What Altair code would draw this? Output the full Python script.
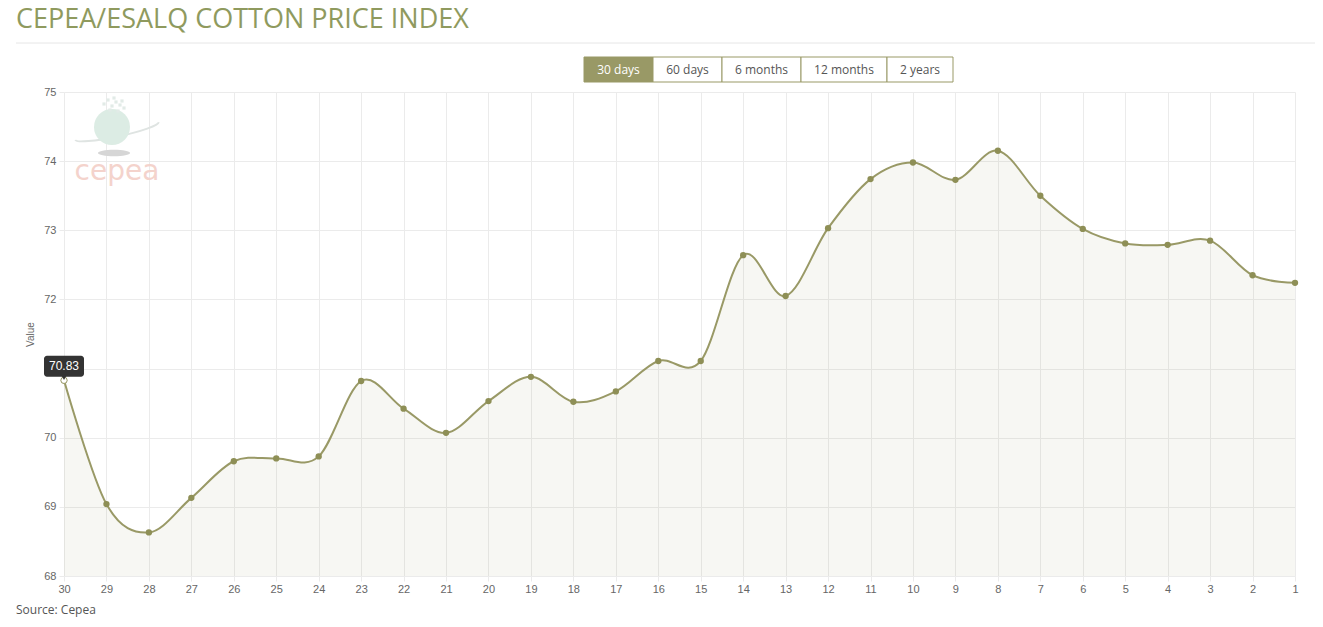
import altair as alt
import pandas as pd

# ---------------- data ----------------
days = list(range(30, 0, -1))
values = [70.83, 69.04, 68.63, 69.13, 69.66, 69.70, 69.73, 70.82, 70.42, 70.07,
          70.53, 70.88, 70.52, 70.67, 71.11, 71.11, 72.64, 72.05, 73.03, 73.74,
          73.98, 73.73, 74.15, 73.50, 73.02, 72.81, 72.79, 72.85, 72.35, 72.24]
y_ticks = [68, 69, 70, 71, 72, 73, 74, 75]
buttons = ["30 days", "60 days", "6 months", "12 months", "2 years"]
active_button = "30 days"
title_text = "CEPEA/ESALQ COTTON PRICE INDEX"
source_text = "Source: Cepea"
y_title = "Value"
logo_text = "cepea"
hover_day = 30

# ---------------- layout / style ----------------
W, H = 1231, 484
OLIVE = "#999966"
AXIS_FONT = "Liberation Sans"
TEXT_FONT = "Open Sans"
GRID = "#ebebeb"

df = pd.DataFrame({"day": days, "value": values})
base = alt.Chart(df)

x_enc = alt.X(
    "day:Q",
    scale=alt.Scale(domain=[1, 30], reverse=True, nice=False, zero=False),
    axis=alt.Axis(values=days, format="d", title=None, grid=True, gridColor=GRID,
                  tickColor=GRID, tickSize=5, domain=False, labelFont=AXIS_FONT,
                  labelFontSize=11, labelColor="#666666", labelPadding=2,
                  labelFlush=False, labelOverlap=False),
)
# the label hidden behind the tooltip in the reference is left blank
y_enc = alt.Y(
    "value:Q",
    scale=alt.Scale(domain=[68, 75], nice=False, zero=False),
    axis=alt.Axis(values=y_ticks, format="d", title=y_title, titleFont=AXIS_FONT,
                  titleFontSize=10, titleFontWeight="normal", titleColor="#666666",
                  titlePadding=8, grid=True, gridColor=GRID, tickColor=GRID, tickSize=5,
                  domain=False, labelFont=AXIS_FONT, labelFontSize=11,
                  labelColor="#666666", labelPadding=3, labelFlush=False,
                  labelExpr="datum.value == 71 ? '' : datum.label"),
)

area = base.mark_area(interpolate="cardinal", color=OLIVE, opacity=0.08).encode(
    x=x_enc, y=y_enc, y2=alt.datum(68)
)
line = base.mark_line(interpolate="cardinal", color=OLIVE, strokeWidth=2).encode(
    x="day:Q", y="value:Q"
)
pts = base.mark_circle(size=40, color="#8e8f56", opacity=1).encode(x="day:Q", y="value:Q")

hover = base.transform_filter(alt.datum.day == hover_day)
hover_pt = hover.mark_point(filled=True, fill="white", stroke=OLIVE, strokeWidth=1,
                            size=40, opacity=1).encode(x="day:Q", y="value:Q")
tip_box = hover.mark_rect(width=40, height=21, yOffset=-14, cornerRadius=3,
                          color="#333333", opacity=1).encode(x="day:Q", y="value:Q")
tip_arrow = hover.mark_point(shape="triangle-down", filled=True, color="#333333",
                             size=40, yOffset=-3, opacity=1).encode(x="day:Q", y="value:Q")
tip_text = hover.mark_text(yOffset=-14, color="white", font=AXIS_FONT, fontSize=12,
                           baseline="middle", align="center").encode(
    x="day:Q", y="value:Q", text=alt.Text("value:Q", format=".2f")
)

# ---------------- decorations ----------------
def txt(s, x, y, **kw):
    return alt.Chart(pd.DataFrame({"t": [s]})).mark_text(**kw).encode(
        x=alt.value(x), y=alt.value(y), text="t:N"
    )

one = pd.DataFrame({"a": [0]})

title = txt(title_text, -48, -64, font=TEXT_FONT, fontSize=27, fontWeight=400,
            color="#8f9a5e", align="left", baseline="alphabetic")
title_rule = alt.Chart(one).mark_rule(color="#e6e6e6", strokeWidth=1).encode(
    x=alt.value(-48), x2=alt.value(1251), y=alt.value(-49)
)
source = txt(source_text, -48, 522, font=TEXT_FONT, fontSize=12, color="#555555",
             align="left", baseline="alphabetic")

btn_edges = [520, 589, 658, 737, 823, 889]
btn_layers = []
for i, b in enumerate(buttons):
    active = b == active_button
    btn_layers.append(
        alt.Chart(one).mark_rect(fill="#999966" if active else "white",
                                 stroke="#999966", strokeWidth=1).encode(
            x=alt.value(btn_edges[i]), x2=alt.value(btn_edges[i + 1]),
            y=alt.value(-35), y2=alt.value(-10))
    )
    btn_layers.append(
        txt(b, (btn_edges[i] + btn_edges[i + 1]) / 2, -22, font=TEXT_FONT, fontSize=12,
            color="white" if active else "#555555", align="center", baseline="middle")
    )

ellipse = "M -1 0 A 1 0.2 0 1 0 1 0 A 1 0.2 0 1 0 -1 0 Z"
ring_path = "M -1 0 A 1 0.13 0 1 0 1 0"
logo_ring = alt.Chart(one).mark_point(shape=ring_path, filled=False, stroke="#dfe4e2",
                                      strokeWidth=2, size=85 * 85, angle=348,
                                      opacity=1).encode(x=alt.value(53), y=alt.value(39))
logo_globe = alt.Chart(one).mark_point(shape="circle", filled=True, fill="#dcece4",
                                       size=36 * 36, opacity=1).encode(
    x=alt.value(48), y=alt.value(35))
dots_df = pd.DataFrame({"dx": [40, 44, 48, 52, 56, 60, 46, 54, 58, 50],
                        "dy": [12, 8, 14, 10, 13, 16, 18, 19, 9, 6]})
logo_dots = alt.Chart(dots_df).mark_point(shape="square", filled=True, fill="#e2ebe7",
                                          size=10, opacity=1).encode(
    x=alt.X("dx:Q", scale=None), y=alt.Y("dy:Q", scale=None))
logo_shadow = alt.Chart(one).mark_point(shape=ellipse, filled=True, fill="#d6d6d6",
                                        size=32 * 32, opacity=1).encode(
    x=alt.value(50), y=alt.value(61))
logo_txt = txt(logo_text, 53, 80, font="DejaVu Sans", fontSize=28, color="#f4d3cc",
               align="center", baseline="middle")

chart = alt.layer(
    logo_ring, logo_globe, logo_dots, logo_shadow, logo_txt,
    area, line, pts, hover_pt, tip_box, tip_arrow, tip_text,
    title, title_rule, source, *btn_layers,
).properties(
    width=W, height=H,
    autosize=alt.AutoSizeParams(type="none"),
    padding={"left": 56, "top": 84, "right": 20, "bottom": 42},
    background="white",
).configure_view(stroke=None)

chart.save("out.html", embed_options={"renderer": "svg", "actions": False})
